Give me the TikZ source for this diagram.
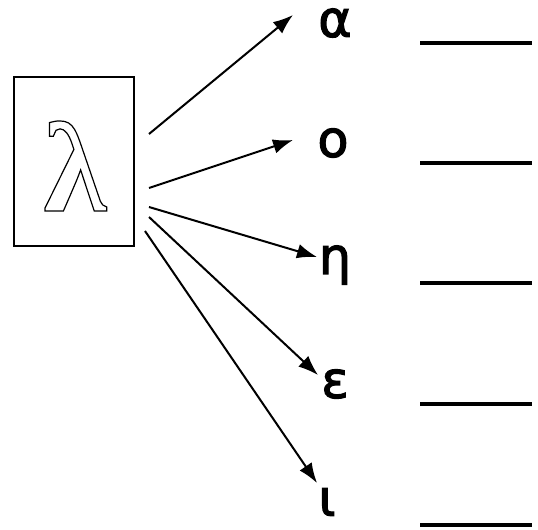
\documentclass[tikz,border=0pt]{standalone}
\usepackage{fontspec}
\setmainfont{DejaVu Sans}
\newfontfamily\lamfont{Liberation Serif}
\usetikzlibrary{arrows.meta}
\newcommand{\thickglyph}[1]{\special{pdf:literal direct 2 Tr 0.9 w}#1\special{pdf:literal direct 0 Tr}}
\tikzset{
  letter/.style={inner sep=0pt, font=\fontsize{38}{40}\selectfont},
  pointer/.style={line width=1.5pt, -{Latex[length=15pt,width=11pt]}},
  blank/.style={line width=3pt}
}
\begin{document}
\begin{tikzpicture}[x=0.75pt,y=-0.75pt]
    \useasboundingbox (0,0) rectangle (538,530);
    \draw[line width=0.8pt] (14,77) rectangle (134,246);
    \node[inner sep=0pt] (lam) at (75,166) {\lamfont\bfseries\fontsize{96}{100}\selectfont\special{pdf:literal direct 1 Tr 0.9 w}λ\special{pdf:literal direct 0 Tr}};
    \node[letter] (a) at (335,23) {\thickglyph{α}};
    \node[letter] (o) at (333,143) {\thickglyph{ο}};
    \node[letter] (h) at (335,265) {\thickglyph{η}};
    \node[letter] (e) at (335,384) {\thickglyph{ε}};
    \node[letter] (i) at (327,502) {\thickglyph{ι}};
    \coordinate (sa) at (149,134);
    \coordinate (so) at (149,188);
    \coordinate (sh) at (149,207);
    \coordinate (se) at (149,217);
    \coordinate (si) at (145,231);
    \coordinate (ta) at (293,15);
    \coordinate (to) at (293,140);
    \coordinate (th) at (317,257);
    \coordinate (te) at (318,375);
    \coordinate (ti) at (317,483);
    \draw[pointer] (sa) -- (ta);
    \draw[pointer] (so) -- (to);
    \draw[pointer] (sh) -- (th);
    \draw[pointer] (se) -- (te);
    \draw[pointer] (si) -- (ti);
    \draw[blank] (420,43) -- (532,43);
    \draw[blank] (420,163) -- (532,163);
    \draw[blank] (420,283) -- (532,283);
    \draw[blank] (420,404) -- (532,404);
    \draw[blank] (420,525) -- (532,525);
\end{tikzpicture}
\end{document}
